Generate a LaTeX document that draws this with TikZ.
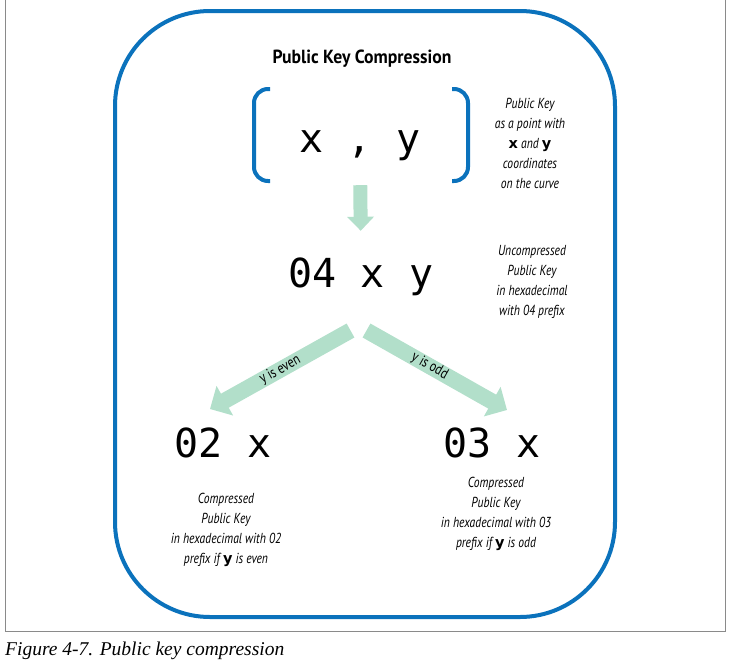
\documentclass[tikz,border=0pt]{standalone}
\usepackage{fontspec}
\usetikzlibrary{arrows.meta}
\setmainfont{Liberation Serif}
\newfontfamily\condf[FakeStretch=0.8]{PT Sans}
\newfontfamily\titlef[FakeStretch=0.93]{PT Sans}
\newfontfamily\monof{DejaVu Sans Mono}
\newfontfamily\boldsans{DejaVu Sans}
\definecolor{frameblue}{HTML}{0B72BC}
\definecolor{arrowgreen}{HTML}{B2DFCA}
\definecolor{framegray}{HTML}{8A8A8A}
\newcommand{\bxy}[1]{{\boldsans\bfseries\upshape #1}}
\tikzset{
  keytext/.style={font=\monof\fontsize{40}{40}\selectfont, inner sep=0pt, text height=30pt, text depth=10pt, anchor=base},
  note/.style={font=\condf\itshape\fontsize{14.5}{20}\selectfont, align=center, inner sep=0pt, anchor=base},
  downarrow/.style={draw=arrowgreen, line width=14pt, -{Triangle[width=26pt,length=14pt]}},
  splitarrow/.style={draw=arrowgreen, line width=16pt, -{Triangle[width=33pt,length=17pt]}},
  arrowlabel/.style={font=\condf\fontsize{15}{15}\selectfont, inner sep=0pt, sloped},
  bracket/.style={draw=frameblue, line width=4pt, rounded corners=14pt},
}
\begin{document}
\begin{tikzpicture}[x=1pt,y=-1pt]
\useasboundingbox (0,0) rectangle (732,665);
% outer gray frame
\draw[framegray, line width=1pt] (5.5,0) -- (5.5,631) -- (725.5,631) -- (725.5,0);
% blue rounded box
\draw[frameblue, line width=4pt, rounded corners=95pt] (115,11) rectangle (615,617);
% title
\node[font=\titlef\bfseries\fontsize{19}{19}\selectfont, inner sep=0pt, anchor=base] (title) at (362,63) {Public Key Compression};
% point
\node[keytext] (xy) at (360,152) {x , y};
\draw[bracket] (270,89) -- (254,89) -- (254,181) -- (270,181);
\draw[bracket] (452,89) -- (468,89) -- (468,181) -- (452,181);
% notes: anchor base = baseline of the last line
\node[note] (n1) at (530,188) {Public Key\\as a point with\\\bxy{x} and \bxy{y}\\coordinates\\on the curve};
% uncompressed
\node[keytext] (unc) at (361,287) {04 x y};
\node[note] (n2) at (532,315) {Uncompressed\\Public Key\\in hexadecimal\\with 04 prefix};
\draw[downarrow, shorten <=23pt, shorten >=26pt] (xy.south) -- (unc.north);
% compressed
\node[keytext] (even) at (223,457) {02 x};
\node[keytext] (odd) at (492,457) {03 x};
\node[note] (n3) at (226,563) {Compressed\\Public Key\\in hexadecimal with 02\\prefix if \bxy{y} is even};
\node[note] (n4) at (496,547) {Compressed\\Public Key\\in hexadecimal with 03\\prefix if \bxy{y} is odd};
\coordinate (evenstart) at (350.5,330.5);
\coordinate (eventip) at (210,409);
\coordinate (oddstart) at (366.5,330.5);
\coordinate (oddtip) at (507,410);
\draw[splitarrow] (evenstart) -- (eventip) node[arrowlabel, pos=0.5] (le) {y is even};
\draw[splitarrow] (oddstart) -- (oddtip) node[arrowlabel, pos=0.45] (lo) {y is odd};
% caption
\node[font=\itshape\fontsize{19.5}{19.5}\selectfont, inner sep=0pt, anchor=base west] (cap) at (5,655) {Figure 4-7. Public key compression};
\end{tikzpicture}
\end{document}
